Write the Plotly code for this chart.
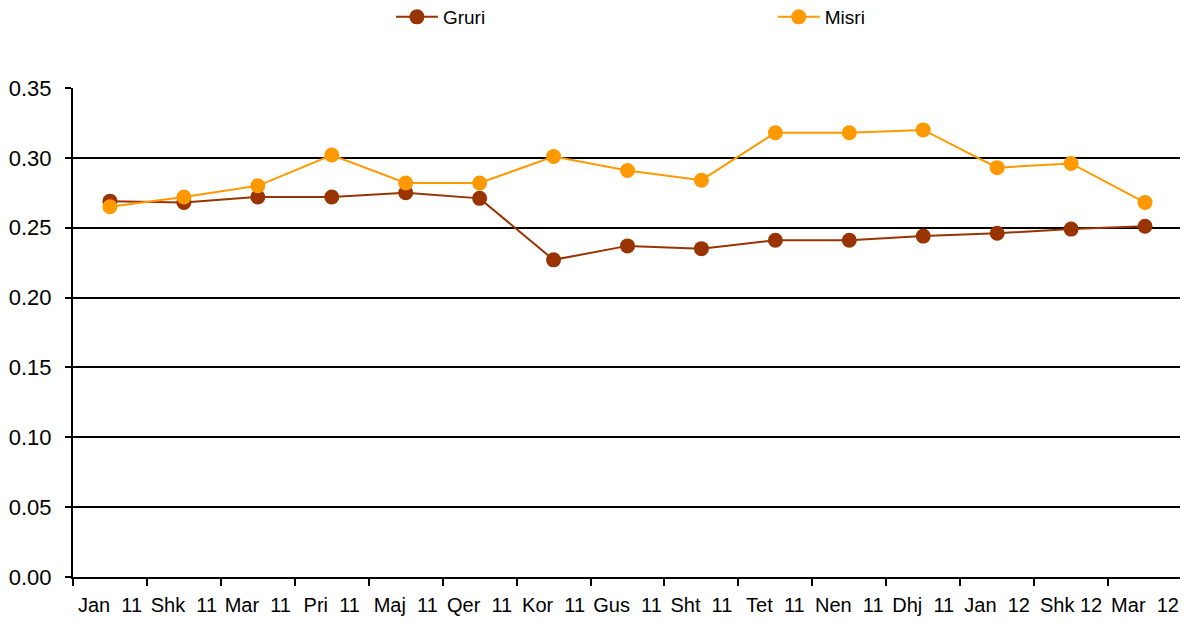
import plotly.graph_objects as go

months = ["Jan\u00a0\u00a011", "Shk\u00a0\u00a011", "Mar\u00a0\u00a011", "Pri\u00a0\u00a011", "Maj\u00a0\u00a011",
          "Qer\u00a0\u00a011", "Kor\u00a0\u00a011", "Gus\u00a0\u00a011", "Sht\u00a0\u00a011", "Tet\u00a0\u00a011",
          "Nen\u00a0\u00a011", "Dhj\u00a0\u00a011", "Jan\u00a0\u00a012", "Shk\u00a012", "Mar\u00a0\u00a012"]
gruri = [0.269, 0.268, 0.272, 0.272, 0.275, 0.271, 0.227, 0.237, 0.235, 0.241,
         0.241, 0.244, 0.246, 0.249, 0.251]
misri = [0.265, 0.272, 0.280, 0.302, 0.282, 0.282, 0.301, 0.291, 0.284, 0.318,
         0.318, 0.320, 0.293, 0.296, 0.268]

fig = go.Figure()
fig.add_trace(go.Scatter(x=months, y=gruri, name="Gruri", mode="lines+markers",
                         line=dict(color="#993300", width=2),
                         marker=dict(color="#993300", size=15),
                         legend="legend"))
fig.add_trace(go.Scatter(x=months, y=misri, name="Misri", mode="lines+markers",
                         line=dict(color="#FF9900", width=2),
                         marker=dict(color="#FF9900", size=15),
                         legend="legend2"))

font_family = "Liberation Sans, Arial, sans-serif"
fig.update_layout(
    width=1188, height=624,
    margin=dict(l=65, r=14, t=80, b=55, autoexpand=False),
    paper_bgcolor="white", plot_bgcolor="white",
    font=dict(family=font_family, color="black"),
    legend=dict(x=0.2867, y=0.9856, yref="container", xanchor="left", yanchor="middle",
                orientation="h", font=dict(size=19), bgcolor="rgba(0,0,0,0)", itemwidth=42),
    legend2=dict(x=0.631, y=0.9856, yref="container", xanchor="left", yanchor="middle",
                 orientation="h", font=dict(size=19), bgcolor="rgba(0,0,0,0)", itemwidth=42),
    showlegend=True,
)
fig.update_xaxes(
    type="category",
    range=[-0.5, len(months) - 0.5],
    showgrid=False, zeroline=False,
    showline=True, linecolor="black", linewidth=2,
    ticks="outside", ticklen=7, tickcolor="black", tickwidth=2,
    tickfont=dict(size=20, family=font_family), ticklabelstandoff=9,
    tickson="boundaries", tickangle=0, automargin=False,
)
fig.update_yaxes(
    range=[0, 0.35], dtick=0.05, tickformat=".2f",
    showgrid=True, gridcolor="black", gridwidth=2,
    zeroline=False,
    showline=True, linecolor="black", linewidth=2,
    ticks="outside", ticklen=6, tickcolor="black", tickwidth=2,
    tickfont=dict(size=22, family=font_family), ticklabelstandoff=9,
    automargin=False,
)

fig.write_html("out.html")
